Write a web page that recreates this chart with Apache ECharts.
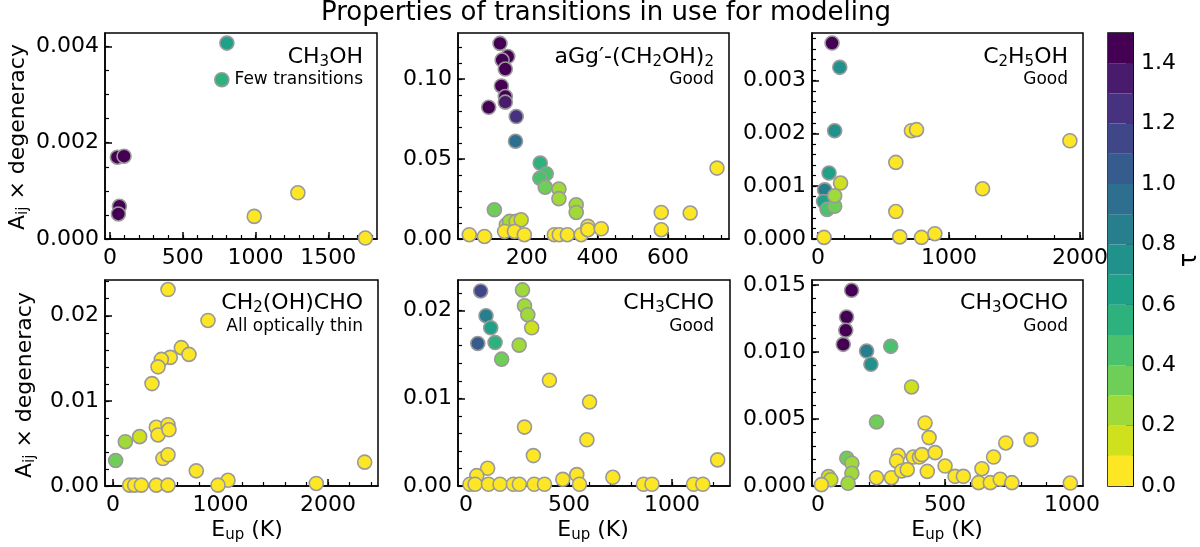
<!DOCTYPE html>
<html>
<head>
<meta charset="utf-8">
<script src="https://cdn.jsdelivr.net/npm/echarts@6/dist/echarts.min.js"></script>
<style>
  html, body { margin: 0; padding: 0; background: #fff; }
  #chart { width: 1200px; height: 547px; }
</style>
</head>
<body>
<div id="chart"></div>
<script>
var FONT = 'DejaVu Sans'

// optical depth bands (colour bar) and their colours (viridis reversed)
var tauLevels = [0.0, 0.1, 0.2, 0.3, 0.4, 0.5, 0.6, 0.7, 0.8, 0.9, 1.0, 1.1, 1.2, 1.3, 1.4, 1.5]
var tauColors = ['#fde725', '#cfe11c', '#9fda3a', '#6ece58', '#4ac16d', '#2db27d', '#1fa187',
                 '#21918c', '#277f8e', '#2e6e8e', '#365c8d', '#3f4788', '#46327e', '#481b6d', '#440154']
var tauTicks = [0.0, 0.2, 0.4, 0.6, 0.8, 1.0, 1.2, 1.4]

// CH3OH
var ch3ohE   = [803, 768, 50, 96, 64, 57, 991, 1291, 1755]
var ch3ohA   = [0.00407, 0.00331, 0.00170, 0.00172, 0.00068, 0.00052, 0.00047, 0.00096, 0.00002]
var ch3ohTau = [0.65, 0.55, 1.45, 1.45, 1.45, 1.45, 0.05, 0.05, 0.05]

// aGg'-(CH2OH)2
var eglE   = [124, 146, 130, 139, 128, 139, 139, 92, 170, 168, 238, 255, 237, 252, 291, 291, 340, 340, 108,
              142, 151, 170, 184, 137, 165, 193, 37, 80, 278, 292, 315, 354, 373, 373, 411, 581, 581, 663, 739]
var eglA   = [0.1222, 0.1140, 0.1118, 0.1062, 0.0956, 0.0890, 0.0855, 0.0823, 0.0765, 0.0611, 0.0474, 0.0407,
              0.0380, 0.0324, 0.0312, 0.0252, 0.0214, 0.0166, 0.0183, 0.0089, 0.0110, 0.0110, 0.0120, 0.0047,
              0.0047, 0.0027, 0.0027, 0.0016, 0.0027, 0.0027, 0.0027, 0.0027, 0.0079, 0.0058, 0.0064, 0.0166,
              0.0058, 0.0162, 0.0443]
var eglTau = [1.45, 1.45, 1.45, 1.45, 1.45, 1.45, 1.35, 1.45, 1.25, 0.95, 0.55, 0.45, 0.45, 0.35, 0.25, 0.25,
              0.25, 0.25, 0.35, 0.15, 0.25, 0.15, 0.15, 0.05, 0.05, 0.05, 0.05, 0.05, 0.05, 0.05, 0.05, 0.05,
              0.05, 0.05, 0.05, 0.05, 0.05, 0.05, 0.05]

// C2H5OH
var c2h5ohE   = [107, 166, 127, 84, 51, 43, 69, 127, 127, 172, 46, 594, 594, 624, 713, 752, 790, 892, 1256, 1923]
var c2h5ohA   = [0.00371, 0.00325, 0.00205, 0.00125, 0.00093, 0.00071, 0.00056, 0.00062, 0.00082, 0.00106,
                 0.00003, 0.00145, 0.00052, 0.00004, 0.00205, 0.00207, 0.00003, 0.00010, 0.00095, 0.00186]
var c2h5ohTau = [1.45, 0.75, 0.75, 0.65, 0.85, 0.65, 0.45, 0.35, 0.25, 0.15, 0.05, 0.05, 0.05, 0.05, 0.05,
                 0.05, 0.05, 0.05, 0.05, 0.05]

// CH2(OH)CHO
var glyE   = [512, 884, 636, 707, 533, 450, 419, 363, 403, 512, 419, 521, 465, 512, 775, 1070, 977, 1891, 2341,
              25, 115, 248, 155, 202, 264, 403, 512]
var glyA   = [0.02308, 0.01945, 0.01625, 0.01546, 0.01511, 0.01487, 0.0140, 0.01203, 0.0069, 0.0072, 0.0060,
              0.0066, 0.00323, 0.00367, 0.00178, 0.00067, 0.0001, 0.0003, 0.0028, 0.0030, 0.0052, 0.0058,
              0.0001, 0.0001, 0.0001, 0.0001, 0.0001]
var glyTau = [0.05, 0.05, 0.05, 0.05, 0.05, 0.05, 0.05, 0.05, 0.05, 0.05, 0.05, 0.05, 0.05, 0.05, 0.05, 0.05,
              0.05, 0.05, 0.05, 0.35, 0.25, 0.15, 0.05, 0.05, 0.05, 0.05, 0.05]

// CH3CHO
var acdE   = [71, 97, 120, 141, 57, 173, 274, 284, 300, 319, 258, 405, 600, 284, 587, 327, 1222, 105, 52, 538,
              470, 713, 19, 44, 109, 165, 230, 259, 331, 381, 551, 862, 903, 1105, 1150]
var acdA   = [0.02225, 0.01943, 0.01805, 0.01637, 0.01626, 0.01447, 0.02237, 0.02057, 0.01954, 0.01805, 0.01607,
              0.01206, 0.00958, 0.00672, 0.00527, 0.00347, 0.00298, 0.00202, 0.00118, 0.0013, 0.00076, 0.00099,
              0.0002, 0.0002, 0.0002, 0.0002, 0.0002, 0.0002, 0.0002, 0.0002, 0.0002, 0.0002, 0.0002, 0.0002, 0.0002]
var acdTau = [1.15, 0.85, 0.65, 0.55, 1.05, 0.35, 0.25, 0.25, 0.25, 0.15, 0.25, 0.05, 0.05, 0.05, 0.05, 0.05,
              0.05, 0.05, 0.05, 0.05, 0.05, 0.05, 0.05, 0.05, 0.05, 0.05, 0.05, 0.05, 0.05, 0.05, 0.05, 0.05,
              0.05, 0.05, 0.05]

// CH3OCHO
var mfE   = [132, 112, 109, 99, 191, 208, 286, 368, 230, 113, 133, 133, 41, 50, 13, 118, 230, 289, 316, 309, 329,
             351, 375, 399, 409, 421, 437, 461, 430, 500, 539, 572, 645, 632, 691, 678, 717, 763, 739, 838, 993]
var mfA   = [0.0146, 0.01261, 0.01162, 0.01057, 0.01007, 0.00908, 0.01042, 0.00739, 0.00478, 0.00207, 0.0017,
             0.00095, 0.0007, 0.00047, 0.0001, 0.0002, 0.00062, 0.00062, 0.00229, 0.00187, 0.00112, 0.00122,
             0.00216, 0.00216, 0.00234, 0.0047, 0.00361, 0.00249, 0.00109, 0.00149, 0.00072, 0.00072, 0.00129,
             0.00025, 0.00216, 0.00025, 0.0005, 0.00025, 0.00321, 0.00346, 0.00022]
var mfTau = [1.45, 1.45, 1.45, 1.45, 0.85, 0.75, 0.45, 0.15, 0.35, 0.35, 0.25, 0.25, 0.15, 0.15, 0.05, 0.25,
             0.05, 0.05, 0.05, 0.05, 0.05, 0.05, 0.05, 0.05, 0.05, 0.05, 0.05, 0.05, 0.05, 0.05, 0.05, 0.05,
             0.05, 0.05, 0.05, 0.05, 0.05, 0.05, 0.05, 0.05, 0.05]

function tauColor(t) {
    for (var k = 0; k < tauColors.length; k++) {
        if (t < tauLevels[k + 1]) return tauColors[k]
    }
    return tauColors[tauColors.length - 1]
}

function points(e, a, tau) {
    return e.map(function (x, i) { return [x, a[i], tau[i]] })
}

// minor tick positions
function steps(lo, hi, step) {
    var out = []
    for (var v = Math.ceil(lo / step) * step; v <= hi + 1e-12; v += step) out.push(+v.toFixed(6))
    return out
}

var panels = [
    { box: [105, 33, 272, 206], x: [-35, 1835], y: [0, 0.00428], xMajor: [0, 500, 1000, 1500], xStep: 100,
      yMajor: [0, 0.002, 0.004], yStep: 0.0005, dec: 3, data: points(ch3ohE, ch3ohA, ch3ohTau) },
    { box: [458, 33, 271, 206], x: [5, 773], y: [0, 0.1287], xMajor: [200, 400, 600], xStep: 50,
      yMajor: [0, 0.05, 0.10], yStep: 0.01, dec: 2, data: points(eglE, eglA, eglTau) },
    { box: [812, 33, 271, 206], x: [-46, 2023], y: [0, 0.0039], xMajor: [0, 1000, 2000], xStep: 200,
      yMajor: [0, 0.001, 0.002, 0.003], yStep: 0.0002, dec: 3, data: points(c2h5ohE, c2h5ohA, c2h5ohTau) },
    { box: [105, 280, 273, 206], x: [-74, 2465], y: [0, 0.0242], xMajor: [0, 1000, 2000], xStep: 200,
      yMajor: [0, 0.01, 0.02], yStep: 0.002, dec: 2, data: points(glyE, glyA, glyTau) },
    { box: [458, 280, 272, 206], x: [-39, 1282], y: [0, 0.0235], xMajor: [0, 500, 1000], xStep: 100,
      yMajor: [0, 0.01, 0.02], yStep: 0.002, dec: 2, data: points(acdE, acdA, acdTau) },
    { box: [812, 280, 271, 206], x: [-24, 1043], y: [0, 0.01537], xMajor: [0, 500, 1000], xStep: 100,
      yMajor: [0, 0.005, 0.010, 0.015], yStep: 0.001, dec: 3, data: points(mfE, mfA, mfTau) }
]

var black = { color: '#000', width: 1.5 }

function axisPair(dim, gi, range, major, step, dec) {
    var base = { type: 'value', gridIndex: gi, min: range[0], max: range[1],
                 position: dim === 'x' ? 'bottom' : 'left', splitLine: { show: false } }
    var main = Object.assign({}, base, {
        axisLine: { show: true, onZero: false, lineStyle: black },
        axisTick: { show: true, inside: true, length: 7, customValues: major, lineStyle: black },
        axisLabel: { show: true, customValues: major, fontFamily: FONT, fontSize: 22, color: '#000',
                     margin: dim === 'x' ? 8 : 6,
                     formatter: function (v) { return dec == null ? String(v) : (+v).toFixed(dec) } }
    })
    var minor = Object.assign({}, base, {
        axisLine: { show: false, onZero: false },
        axisTick: { show: true, inside: true, length: 4, customValues: steps(range[0], range[1], step),
                    lineStyle: { color: '#000', width: 1.2 } },
        axisLabel: { show: false }
    })
    return [main, minor]
}

var grids = [], xAxes = [], yAxes = [], series = []
panels.forEach(function (p, i) {
    grids.push({ left: p.box[0], top: p.box[1], width: p.box[2], height: p.box[3], show: true,
                 borderColor: '#000', borderWidth: 1.5, backgroundColor: '#fff', outerBoundsMode: 'none' })
    xAxes = xAxes.concat(axisPair('x', i, p.x, p.xMajor, p.xStep, null))
    yAxes = yAxes.concat(axisPair('y', i, p.y, p.yMajor, p.yStep, p.dec))
    series.push({
        type: 'scatter', xAxisIndex: 2 * i, yAxisIndex: 2 * i, symbol: 'circle', symbolSize: 14,
        data: p.data,
        itemStyle: { color: function (d) { return tauColor(d.value[2]) }, borderColor: '#999', borderWidth: 1.6, opacity: 1 }
    })
})

// colour bar
var cbIndex = panels.length
grids.push({ left: 1108, top: 33, width: 25, height: 453, show: true, borderColor: '#000', borderWidth: 1.5,
             backgroundColor: 'transparent', outerBoundsMode: 'none' })
xAxes.push({ type: 'category', gridIndex: cbIndex, data: ['tau'], show: false })
yAxes.push({
    type: 'value', gridIndex: cbIndex, min: 0, max: 1.5, position: 'right', splitLine: { show: false },
    axisLine: { show: true, lineStyle: black },
    axisTick: { show: true, inside: true, length: 7, customValues: tauTicks, lineStyle: black },
    axisLabel: { show: true, customValues: tauTicks, fontFamily: FONT, fontSize: 22, color: '#000', margin: 8,
                 formatter: function (v) { return (+v).toFixed(1) } }
})
tauColors.forEach(function (c, k) {
    series.push({ type: 'bar', xAxisIndex: xAxes.length - 1, yAxisIndex: yAxes.length - 1, stack: 'cb',
                  barWidth: '100%', silent: true, data: [tauLevels[k + 1] - tauLevels[k]], itemStyle: { color: c } })
})

var rich = {
    n: { fontFamily: FONT, fontSize: 22, lineHeight: 26, color: '#000' },
    s: { fontFamily: FONT, fontSize: 15, lineHeight: 14, verticalAlign: 'bottom', color: '#000' }
}
function richText(x, y, text, align, rotation, z) {
    return { type: 'text', x: x, y: y, rotation: rotation || 0, silent: true, z: z || 10,
             style: { text: text, rich: rich, align: align, verticalAlign: 'middle' } }
}
function smallText(x, y, text) {
    return { type: 'text', x: x, y: y, silent: true, z: 10,
             style: { text: text, fontFamily: FONT, fontSize: 17, fill: '#000', align: 'right', verticalAlign: 'middle' } }
}

var texts = [
    { type: 'text', x: 606, y: 13, silent: true,
      style: { text: 'Properties of transitions in use for modeling', fontFamily: FONT, fontSize: 26,
               fill: '#000', align: 'center', verticalAlign: 'middle' } },
    richText(363, 57, '{n|CH}{s|3}{n|OH}', 'right'),
    smallText(363, 80, 'Few transitions'),
    richText(714, 57, '{n|aGg′-(CH}{s|2}{n|OH)}{s|2}', 'right'),
    smallText(714, 80, 'Good'),
    richText(1068, 57, '{n|C}{s|2}{n|H}{s|5}{n|OH}', 'right'),
    smallText(1068, 80, 'Good'),
    richText(363, 303, '{n|CH}{s|2}{n|(OH)CHO}', 'right'),
    smallText(363, 327, 'All optically thin'),
    richText(714, 303, '{n|CH}{s|3}{n|CHO}', 'right'),
    smallText(714, 327, 'Good'),
    richText(1068, 303, '{n|CH}{s|3}{n|OCHO}', 'right'),
    smallText(1068, 327, 'Good'),
    richText(18, 137, '{n|A}{s|ij}{n| × degeneracy}', 'center', Math.PI / 2),
    richText(25, 385, '{n|A}{s|ij}{n| × degeneracy}', 'center', Math.PI / 2),
    richText(247, 530, '{n|E}{s|up}{n| (K)}', 'center'),
    richText(593, 530, '{n|E}{s|up}{n| (K)}', 'center'),
    richText(947, 530, '{n|E}{s|up}{n| (K)}', 'center'),
    // x label of the upper right panel, mostly hidden behind the lower right panel
    richText(947, 291, '{n|E}{s|up}{n| (K)}', 'center', 0, -5),
    { type: 'text', x: 1190, y: 260, rotation: Math.PI / 2, silent: true,
      style: { text: 'τ', fontFamily: FONT, fontSize: 24, fill: '#000', align: 'center', verticalAlign: 'middle' } }
]

var chart = echarts.init(document.getElementById('chart'))
chart.setOption({
    animation: false,
    backgroundColor: '#fff',
    grid: grids,
    xAxis: xAxes,
    yAxis: yAxes,
    series: series,
    graphic: { elements: texts }
})
</script>
</body>
</html>
